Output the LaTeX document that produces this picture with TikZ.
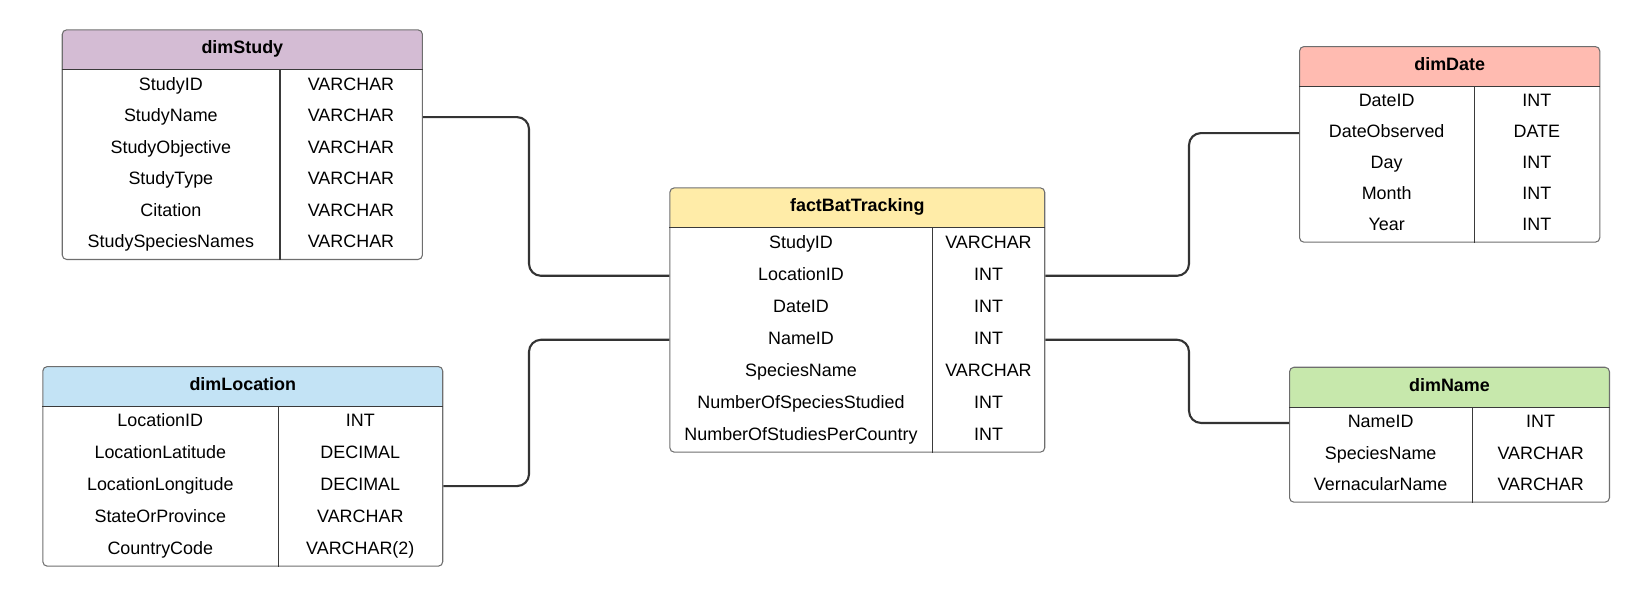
\documentclass[tikz,border=0pt]{standalone}
\usepackage{fontspec}
\setmainfont{Liberation Sans}
\usetikzlibrary{calc}
\usetikzlibrary{positioning}

\definecolor{studyfill}{HTML}{D4BCD4}
\definecolor{factfill}{HTML}{FFECA8}
\definecolor{datefill}{HTML}{FFBBB1}
\definecolor{locfill}{HTML}{C3E3F5}
\definecolor{namefill}{HTML}{C7E8AC}
\definecolor{tblline}{HTML}{6E6E6E}
\definecolor{ruleline}{HTML}{3A3A3A}
\definecolor{linkline}{HTML}{333333}

\begin{document}
\begin{tikzpicture}[x=0.02cm,y=-0.02cm,
	font=\fontsize{10.2}{12}\selectfont,
	tbl/.style={draw=tblline,fill=white,line width=0.6pt,rounded corners=0.09cm,inner sep=0pt,anchor=north west,
		path picture={\fill[#1,sharp corners] (path picture bounding box.north west) rectangle ([yshift=-0.81cm]path picture bounding box.north east);}},
	title/.style={font=\fontsize{10.2}{12}\selectfont\bfseries,inner sep=0pt,text height=7.3pt,text depth=0pt},
	field/.style={inner sep=0pt,text height=7.3pt,text depth=2.1pt},
	rule/.style={draw=ruleline,line width=0.6pt},
	link/.style={draw=linkline,line width=1.2pt,rounded corners=0.24cm}]
	\useasboundingbox (0,0) rectangle (1652,599);

	% dimStudy
	\node [tbl=studyfill,minimum width=7.206cm,minimum height=4.594cm] (study) at (61.7,29.3) {};
	\node [title] (studytitle) at ($(study.north)+(0,18)$) {dimStudy};
	\draw [rule] ($(study.north west)+(0,40.5)$) -- ($(study.north east)+(0,40.5)$);
	\draw [rule] ($(study.north west)+(218.3,40.5)$) -- ($(study.south west)+(218.3,0)$);
	\foreach \fname/\ftype [count=\i] in {StudyID/VARCHAR,StudyName/VARCHAR,StudyObjective/VARCHAR,StudyType/VARCHAR,Citation/VARCHAR,StudySpeciesNames/VARCHAR}{
		\node [field] (study\i) at ($(study.north west)+(109.15,40.5+31.53*\i-15.77)$) {\fname};
		\node [field] (studyt\i) at ($(study.north west)+(289.3,40.5+31.53*\i-15.77)$) {\ftype};
	}

	% factBatTracking
	\node [tbl=factfill,minimum width=7.5cm,minimum height=5.288cm] (fact) at (669.3,187.3) {};
	\node [title] (facttitle) at ($(fact.north)+(0,18)$) {factBatTracking};
	\draw [rule] ($(fact.north west)+(0,40.5)$) -- ($(fact.north east)+(0,40.5)$);
	\draw [rule] ($(fact.north west)+(263.4,40.5)$) -- ($(fact.south west)+(263.4,0)$);
	\foreach \fname/\ftype [count=\i] in {StudyID/VARCHAR,LocationID/INT,DateID/INT,NameID/INT,SpeciesName/VARCHAR,NumberOfSpeciesStudied/INT,NumberOfStudiesPerCountry/INT}{
		\node [field] (fact\i) at ($(fact.north west)+(131.7,40.5+31.99*\i-16)$) {\fname};
		\node [field] (factt\i) at ($(fact.north west)+(319.2,40.5+31.99*\i-16)$) {\ftype};
	}

	% dimDate
	\node [tbl=datefill,minimum width=6.006cm,minimum height=3.914cm] (date) at (1299,46) {};
	\node [title] (datetitle) at ($(date.north)+(0,18)$) {dimDate};
	\draw [rule] ($(date.north west)+(0,40.5)$) -- ($(date.north east)+(0,40.5)$);
	\draw [rule] ($(date.north west)+(175.3,40.5)$) -- ($(date.south west)+(175.3,0)$);
	\foreach \fname/\ftype [count=\i] in {DateID/INT,DateObserved/DATE,Day/INT,Month/INT,Year/INT}{
		\node [field] (date\i) at ($(date.north west)+(87.65,40.5+31.04*\i-15.52)$) {\fname};
		\node [field] (datet\i) at ($(date.north west)+(237.8,40.5+31.04*\i-15.52)$) {\ftype};
	}

	% dimLocation
	\node [tbl=locfill,minimum width=8cm,minimum height=3.994cm] (location) at (42.3,366) {};
	\node [title] (locationtitle) at ($(location.north)+(0,18)$) {dimLocation};
	\draw [rule] ($(location.north west)+(0,40.5)$) -- ($(location.north east)+(0,40.5)$);
	\draw [rule] ($(location.north west)+(236,40.5)$) -- ($(location.south west)+(236,0)$);
	\foreach \fname/\ftype [count=\i] in {LocationID/INT,LocationLatitude/DECIMAL,LocationLongitude/DECIMAL,StateOrProvince/VARCHAR,CountryCode/VARCHAR(2)}{
		\node [field] (location\i) at ($(location.north west)+(118,40.5+31.84*\i-15.92)$) {\fname};
		\node [field] (locationt\i) at ($(location.north west)+(318,40.5+31.84*\i-15.92)$) {\ftype};
	}

	% dimName
	\node [tbl=namefill,minimum width=6.4cm,minimum height=2.7cm] (name) at (1289,366.7) {};
	\node [title] (nametitle) at ($(name.north)+(0,18)$) {dimName};
	\draw [rule] ($(name.north west)+(0,40.5)$) -- ($(name.north east)+(0,40.5)$);
	\draw [rule] ($(name.north west)+(183.3,40.5)$) -- ($(name.south west)+(183.3,0)$);
	\foreach \fname/\ftype [count=\i] in {NameID/INT,SpeciesName/VARCHAR,VernacularName/VARCHAR}{
		\node [field] (name\i) at ($(name.north west)+(91.65,40.5+31.5*\i-15.75)$) {\fname};
		\node [field] (namet\i) at ($(name.north west)+(251.65,40.5+31.5*\i-15.75)$) {\ftype};
	}

	% links
	\coordinate (lbus) at (529,0);
	\coordinate (rbus) at (1189,0);
	\draw [link] (study.east |- study2) -- (lbus |- study2) -- (lbus |- fact2) -- (fact.west |- fact2);
	\draw [link] (location.east |- location3) -- (lbus |- location3) -- (lbus |- fact4) -- (fact.west |- fact4);
	\draw [link] (fact.east |- fact2) -- (rbus |- fact2) -- (rbus |- date2) -- (date.west |- date2);
	\draw [link] (fact.east |- fact4) -- (rbus |- fact4) -- (rbus |- name1) -- (name.west |- name1);
\end{tikzpicture}
\end{document}
